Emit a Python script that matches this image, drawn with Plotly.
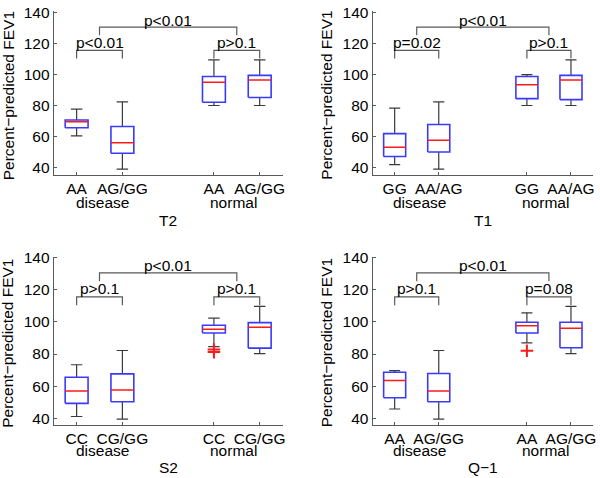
import plotly.graph_objects as go

# ---------------- data ----------------
positions = [1, 2, 4, 5]
groups = ["disease", "normal"]
y_title = "Percent\u2212predicted FEV1"
y_ticks = [40, 60, 80, 100, 120, 140]

# T2 panel
T2_labels = ["AA", "AG/GG", "AA", "AG/GG"]
T2_lower = [60.6, 39.2, 80.2, 80.2]
T2_q1 = [65.9, 49.5, 82.3, 85.3]
T2_median = [69.7, 56.2, 95.2, 96.6]
T2_q3 = [70.9, 66.7, 98.9, 99.6]
T2_upper = [77.9, 82.5, 109.5, 109.5]
T2_outliers = [[], [], [], []]
T2_p = ["p<0.01", "p>0.1", "p<0.01"]

# T1 panel
T1_labels = ["GG", "AA/AG", "GG", "AA/AG"]
T1_lower = [42.1, 39.2, 80.2, 80.2]
T1_q1 = [47.4, 50.3, 84.6, 84.0]
T1_median = [53.3, 57.9, 93.5, 96.6]
T1_q3 = [62.1, 68.0, 98.9, 99.6]
T1_upper = [78.5, 82.5, 100.0, 109.5]
T1_outliers = [[], [], [], []]
T1_p = ["p=0.02", "p>0.1", "p<0.01"]

# S2 panel
S2_labels = ["CC", "CG/GG", "CC", "CG/GG"]
S2_lower = [41.0, 39.4, 84.6, 80.2]
S2_q1 = [49.2, 50.2, 93.1, 83.7]
S2_median = [56.9, 57.6, 95.5, 96.7]
S2_q3 = [65.5, 67.6, 98.0, 99.6]
S2_upper = [73.3, 82.2, 102.4, 109.8]
S2_outliers = [[], [], [82.8, 81.2], []]
S2_p = ["p>0.1", "p>0.1", "p<0.01"]

# Q-1 panel
Q1_labels = ["AA", "AG/GG", "AA", "AG/GG"]
Q1_lower = [45.7, 39.4, 87.0, 80.2]
Q1_q1 = [52.7, 50.2, 93.1, 83.9]
Q1_median = [63.5, 56.9, 97.6, 96.1]
Q1_q3 = [68.6, 67.8, 99.8, 99.8]
Q1_upper = [69.6, 82.2, 105.7, 109.8]
Q1_outliers = [[], [], [82.0], []]
Q1_p = ["p>0.1", "p=0.08", "p<0.01"]

# bracket levels (data units)
inner_bracket = [110.5, 115.7]
outer_bracket = [125.4, 130.6]

panel_names = ["T2", "T1", "S2", "Q\u22121"]
panel_labels = [T2_labels, T1_labels, S2_labels, Q1_labels]
panel_lower = [T2_lower, T1_lower, S2_lower, Q1_lower]
panel_q1 = [T2_q1, T1_q1, S2_q1, Q1_q1]
panel_median = [T2_median, T1_median, S2_median, Q1_median]
panel_q3 = [T2_q3, T1_q3, S2_q3, Q1_q3]
panel_upper = [T2_upper, T1_upper, S2_upper, Q1_upper]
panel_outliers = [T2_outliers, T1_outliers, S2_outliers, Q1_outliers]
panel_p = [T2_p, T1_p, S2_p, Q1_p]

# ---------------- layout geometry ----------------
W, H = 600, 478
x_domains = [[54 / W, 284 / W], [374.5 / W, 596 / W], [54 / W, 284 / W], [374.5 / W, 596 / W]]
y_domains = [[1 - 171 / H, 1 - 4.4 / H], [1 - 171 / H, 1 - 4.4 / H],
             [1 - 425.7 / H, 1 - 254.4 / H], [1 - 425.7 / H, 1 - 254.4 / H]]
y_ranges = [[35.6, 140.8], [35.6, 140.8], [35.9, 140.8], [35.9, 140.8]]
group_label_y = [1 - 199 / H, 1 - 199 / H, 1 - 452.5 / H, 1 - 452.5 / H]
axis_title_y = [1 - 218 / H, 1 - 218 / H, 1 - 469.5 / H, 1 - 469.5 / H]
ytitle_x = [8 / W, 328 / W, 8 / W, 328 / W]
ytitle_y = [1 - 90 / H, 1 - 90 / H, 1 - 342.3 / H, 1 - 342.3 / H]

FONT = "Liberation Sans, Arial, sans-serif"
BLUE = "#3a3aff"
RED = "#ff1a1a"
WHISK = "#3a3a3a"
AXC = "#5a5a5a"
BW = 0.25   # half box width
CW = 0.125  # half cap width

fig = go.Figure()
annotations = []

for k in range(4):
    xa = "x" if k == 0 else f"x{k+1}"
    ya = "y" if k == 0 else f"y{k+1}"
    bx, by, mx, my, wx, wy, ox, oy = [], [], [], [], [], [], [], []
    for i, p in enumerate(positions):
        lo, q1, md, q3, up = (panel_lower[k][i], panel_q1[k][i], panel_median[k][i],
                              panel_q3[k][i], panel_upper[k][i])
        bx += [p - BW, p + BW, p + BW, p - BW, p - BW, None]
        by += [q1, q1, q3, q3, q1, None]
        mx += [p - BW, p + BW, None]
        my += [md, md, None]
        wx += [p, p, None, p, p, None, p - CW, p + CW, None, p - CW, p + CW, None]
        wy += [q3, up, None, q1, lo, None, up, up, None, lo, lo, None]
        for o in panel_outliers[k][i]:
            ox.append(p)
            oy.append(o)
    fig.add_trace(go.Scatter(x=wx, y=wy, mode="lines", line=dict(color=WHISK, width=1.2),
                             xaxis=xa, yaxis=ya, showlegend=False, hoverinfo="skip"))
    fig.add_trace(go.Scatter(x=bx, y=by, mode="lines", line=dict(color=BLUE, width=1.6),
                             xaxis=xa, yaxis=ya, showlegend=False))
    fig.add_trace(go.Scatter(x=mx, y=my, mode="lines", line=dict(color=RED, width=1.5),
                             xaxis=xa, yaxis=ya, showlegend=False))
    if ox:
        fig.add_trace(go.Scatter(x=ox, y=oy, mode="markers",
                                 marker=dict(symbol="cross-thin", size=9,
                                             line=dict(color=RED, width=2)),
                                 xaxis=xa, yaxis=ya, showlegend=False))
    # brackets
    p1, p2, p4, p5 = positions
    lo_i, hi_i = inner_bracket
    lo_o, hi_o = outer_bracket
    brx = [p1, p1, p2, p2, None, p4, p4, p5, p5, None,
           (p1 + p2) / 2, (p1 + p2) / 2, (p4 + p5) / 2, (p4 + p5) / 2]
    bry = [lo_i, hi_i, hi_i, lo_i, None, lo_i, hi_i, hi_i, lo_i, None,
           lo_o, hi_o, hi_o, lo_o]
    fig.add_trace(go.Scatter(x=brx, y=bry, mode="lines", line=dict(color=AXC, width=1.2),
                             xaxis=xa, yaxis=ya, showlegend=False, hoverinfo="skip"))
    ptxt = panel_p[k]
    for txt, xx, yy in [(ptxt[0], (p1 + p2) / 2, 120.7), (ptxt[1], (p4 + p5) / 2, 120.7),
                        (ptxt[2], (p1 + p2 + p4 + p5) / 4, 135.0)]:
        annotations.append(dict(text=txt, x=xx, y=yy, xref=xa, yref=ya, showarrow=False,
                                xanchor="center", yanchor="middle",
                                font=dict(family=FONT, size=15.5, color="black")))
    # group labels
    for g, gx in zip(groups, [1.57, 4.43]):
        annotations.append(dict(text=g, x=gx, y=group_label_y[k], xref=xa, yref="paper",
                                showarrow=False, xanchor="center", yanchor="middle",
                                font=dict(family=FONT, size=15.5, color="black")))
    annotations.append(dict(text=panel_names[k], x=3, y=axis_title_y[k], xref=xa, yref="paper",
                            showarrow=False, xanchor="center", yanchor="middle",
                            font=dict(family=FONT, size=15.5, color="black")))
    annotations.append(dict(text=y_title, x=ytitle_x[k], y=ytitle_y[k], xref="paper",
                            yref="paper", showarrow=False, textangle=-90,
                            xanchor="center", yanchor="middle",
                            font=dict(family=FONT, size=15.5, color="black")))

    xkey = "xaxis" if k == 0 else f"xaxis{k+1}"
    ykey = "yaxis" if k == 0 else f"yaxis{k+1}"
    fig.layout[xkey] = dict(domain=x_domains[k], range=[0.5, 5.5], anchor=ya,
                            tickmode="array", tickvals=positions, ticktext=panel_labels[k],
                            ticks="inside", ticklen=3, tickcolor=AXC,
                            showline=True, linecolor=AXC, linewidth=1.2,
                            showgrid=False, zeroline=False, fixedrange=True,
                            tickfont=dict(family=FONT, size=15.5, color="black"))
    fig.layout[ykey] = dict(domain=y_domains[k], range=y_ranges[k], anchor=xa,
                            tickmode="array", tickvals=y_ticks,
                            ticks="inside", ticklen=3, tickcolor=AXC,
                            showline=True, linecolor=AXC, linewidth=1.2,
                            showgrid=False, zeroline=False, fixedrange=True,
                            tickfont=dict(family=FONT, size=15.5, color="black"))

fig.update_layout(width=W, height=H, margin=dict(l=0, r=0, t=0, b=0),
                  paper_bgcolor="white", plot_bgcolor="white",
                  annotations=annotations, showlegend=False)

fig.write_html("out.html", config={"displayModeBar": False},
               post_script="document.body.style.margin='0';document.body.style.padding='0';"
                           "document.body.style.overflow='hidden';")
